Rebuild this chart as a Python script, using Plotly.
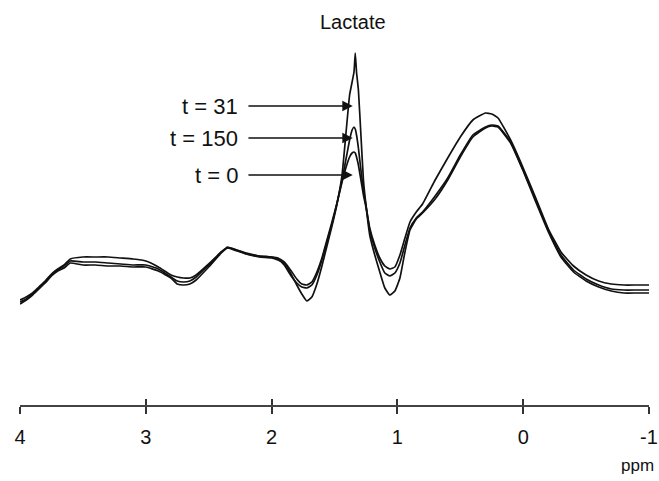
import plotly.graph_objects as go

# Chemical shift grid (ppm), shared by the three spectra
ppm = [4.00, 3.95, 3.90, 3.85, 3.80, 3.75, 3.70, 3.65, 3.60, 3.50, 3.40, 3.30,
       3.20, 3.10, 3.00, 2.90, 2.80, 2.75, 2.70, 2.65, 2.60, 2.50, 2.40, 2.35,
       2.30, 2.20, 2.10, 2.00, 1.95, 1.90, 1.85, 1.80, 1.76, 1.72, 1.68, 1.64,
       1.60, 1.56, 1.52, 1.48, 1.44, 1.41, 1.38, 1.36, 1.345, 1.335, 1.325,
       1.31, 1.29, 1.27, 1.25, 1.22, 1.18, 1.14, 1.10, 1.06, 1.02, 0.98, 0.94,
       0.90, 0.85, 0.80, 0.70, 0.60, 0.50, 0.40, 0.30, 0.25, 0.20, 0.10, 0.00,
       -0.10, -0.20, -0.30, -0.40, -0.50, -0.60, -0.70, -0.80, -0.90, -1.00]

# Signal intensity (arbitrary units) at each time point
t0 = [10, 13, 17, 23, 29, 36, 41, 45, 51, 53, 53, 53,
      52, 51, 49, 43, 35, 33, 32, 32, 35, 46, 58, 63,
      61, 57, 54, 53, 52, 48, 40, 31, 26, 25, 28, 38,
      52, 70, 88, 107, 128, 142, 153, 157, 158, 157, 153,
      145, 130, 115, 103, 82, 65, 52, 44, 41, 43, 55, 72,
      88, 98, 106, 130, 152, 173, 190, 197, 196, 192, 170, 142,
      112, 81, 58, 44, 35, 29, 26, 25, 25, 25]

t150 = [8, 11, 16, 22, 28, 35, 40, 44, 49, 48, 48, 47,
        46, 45, 45, 41, 33, 29, 28, 29, 33, 45, 58, 62,
        61, 56, 54, 53, 51, 45, 35, 27, 23, 22, 25, 35,
        50, 68, 86, 107, 130, 150, 170, 180, 183, 181, 175,
        162, 140, 120, 105, 80, 62, 48, 37, 34, 37, 47, 65,
        82, 92, 98, 114, 132, 155, 175, 183, 185, 184, 168, 140,
        110, 80, 55, 40, 31, 25, 21, 20, 20, 20]

t31 = [6, 10, 15, 21, 27, 34, 39, 42, 47, 45, 45, 44,
       44, 43, 43, 39, 32, 26, 25, 26, 30, 43, 57, 62,
       60, 56, 53, 52, 50, 47, 37, 25, 16, 9, 13, 26,
       44, 64, 84, 106, 135, 175, 215, 228, 238, 257, 238,
       220, 175, 130, 105, 75, 55, 38, 22, 15, 19, 32, 58,
       80, 91, 97, 111, 130, 153, 173, 182, 184, 183, 167, 139,
       108, 78, 53, 38, 29, 23, 19, 17, 17, 17]

tick_vals = [4, 3, 2, 1, 0, -1]
tick_text = ["4", "3", "2", "1", "0", "-1"]

# Arrow labels: (text, intensity at which the arrow points)
labels = [("t = 31", 204), ("t = 150", 172), ("t = 0", 135)]
lactate_ppm = 1.355

FONT = "Liberation Sans, Arial, sans-serif"

fig = go.Figure()
for name, vals in [("t = 0", t0), ("t = 150", t150), ("t = 31", t31)]:
    fig.add_trace(go.Scatter(
        x=ppm, y=vals, mode="lines", name=name,
        line=dict(color="#111111", width=1.7, shape="spline", smoothing=0.4),
        showlegend=False, hoverinfo="skip",
    ))

# Second x-axis only supplies the tick half above the axis line
fig.add_trace(go.Scatter(x=[4, -1], y=[None, None], xaxis="x2", showlegend=False,
                         hoverinfo="skip"))

for text, yv in labels:
    fig.add_annotation(x=lactate_ppm, y=yv, ax=2.196, ay=yv,
                       xref="x", yref="y", axref="x", ayref="y",
                       text="", showarrow=True, arrowhead=2, arrowsize=1.3,
                       arrowwidth=1.6, arrowcolor="#111111")
    fig.add_annotation(x=2.251, y=yv, xref="x", yref="y", text=text,
                       showarrow=False, xanchor="right", yanchor="middle",
                       font=dict(family=FONT, size=22, color="#111111"))

fig.add_annotation(x=lactate_ppm, y=288, xref="x", yref="y", text="Lactate",
                   showarrow=False, xanchor="center", yanchor="middle",
                   font=dict(family=FONT, size=20, color="#111111"))

fig.add_annotation(x=0.9825, y=-0.15, xref="paper", yref="paper", text="ppm",
                   showarrow=False, xanchor="center", yanchor="middle",
                   font=dict(family=FONT, size=17, color="#111111"))

axis_common = dict(range=[4, -1], tickvals=tick_vals, showgrid=False,
                   zeroline=False, tickcolor="#333333", tickwidth=2)

fig.update_layout(
    width=659, height=481,
    margin=dict(l=20, r=10, t=0, b=76),
    paper_bgcolor="white", plot_bgcolor="white",
    xaxis=dict(**axis_common, ticktext=tick_text, ticks="outside", ticklen=7,
               showline=True, linecolor="#444444", linewidth=2,
               tickfont=dict(family=FONT, size=20, color="#111111"),
               ticklabelstandoff=6),
    xaxis2=dict(**axis_common, overlaying="x", anchor="y", side="bottom",
                ticks="inside", ticklen=6, showticklabels=False, showline=False),
    yaxis=dict(range=[-95, 310], visible=False, showgrid=False, zeroline=False),
)

fig.write_html("out.html")
